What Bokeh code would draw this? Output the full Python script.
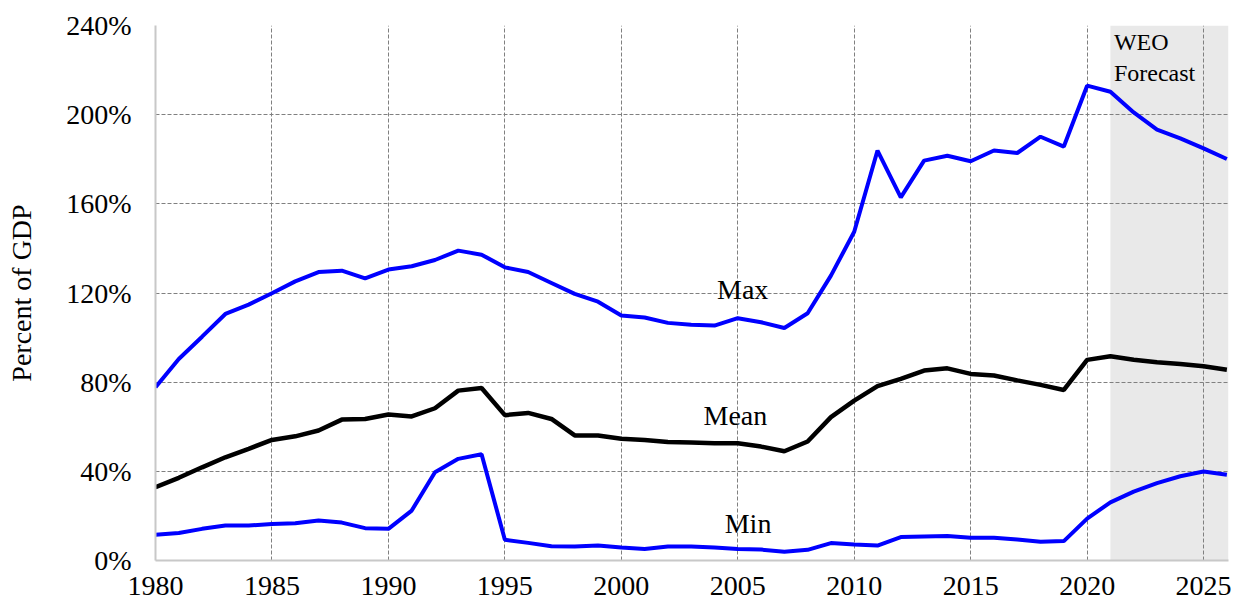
from bokeh.plotting import figure
from bokeh.models import BoxAnnotation, FixedTicker, PrintfTickFormatter, Range1d, Label
from bokeh.embed import file_html
from bokeh.resources import INLINE

years = list(range(1980, 2027))

max_vals = [77.7, 90.4, 100.4, 110.6, 114.8, 119.9, 125.2, 129.4, 130.0, 126.6,
            130.5, 132.0, 134.8, 139.0, 137.2, 131.5, 129.4, 124.5, 119.6, 116.1,
            109.9, 109.0, 106.6, 105.8, 105.4, 108.7, 106.9, 104.3, 110.9, 127.8,
            147.5, 183.9, 162.9, 179.4, 181.6, 179.1, 183.9, 182.8, 190.1, 185.7,
            213.0, 210.3, 201.0, 193.3, 189.4, 184.9, 180.1]

mean_vals = [32.9, 37.1, 41.8, 46.3, 50.1, 54.1, 55.7, 58.3, 63.2, 63.5,
             65.5, 64.6, 68.3, 76.2, 77.4, 65.2, 66.2, 63.5, 56.1, 56.1,
             54.6, 54.1, 53.2, 52.9, 52.6, 52.6, 51.1, 49.0, 53.4, 64.3,
             71.7, 78.2, 81.5, 85.2, 86.2, 83.7, 83.0, 80.8, 78.8, 76.5,
             90.0, 91.6, 90.1, 88.9, 88.2, 87.1, 85.6]

min_vals = [11.5, 12.3, 14.2, 15.7, 15.7, 16.4, 16.7, 17.9, 17.0, 14.5,
            14.2, 22.4, 39.6, 45.6, 47.7, 9.3, 7.9, 6.4, 6.3, 6.7,
            5.8, 5.2, 6.3, 6.3, 5.8, 5.2, 4.9, 3.9, 4.8, 7.8,
            7.2, 6.7, 10.5, 10.8, 11.0, 10.2, 10.2, 9.4, 8.4, 8.7,
            18.8, 26.1, 30.9, 34.7, 37.8, 39.9, 38.5]

x_ticks = [1980, 1985, 1990, 1995, 2000, 2005, 2010, 2015, 2020, 2025]
y_ticks = [0, 40, 80, 120, 160, 200, 240]
forecast_start = 2021

FONT = "Liberation Serif"

p = figure(width=1236, height=602, output_backend="svg", toolbar_location=None,
           x_range=Range1d(1980, 2026.07), y_range=Range1d(0, 240),
           min_border_left=155, min_border_right=8, min_border_top=25, min_border_bottom=42)
p.outline_line_color = None
p.background_fill_color = "white"

shade = BoxAnnotation(left=forecast_start, fill_color="#e9e9e9", fill_alpha=1.0,
                      line_color=None, level="image")
p.add_layout(shade)

p.line(years, max_vals, line_color="#0000ff", line_width=4)
p.line(years, mean_vals, line_color="black", line_width=4.5)
p.line(years, min_vals, line_color="#0000ff", line_width=4)

# axes
p.xaxis.ticker = FixedTicker(ticks=x_ticks)
p.yaxis.ticker = FixedTicker(ticks=y_ticks)
p.yaxis.formatter = PrintfTickFormatter(format="%d%%")
for ax in (p.xaxis[0], p.yaxis[0]):
    ax.axis_line_color = "#c8c8c8"
    ax.axis_line_width = 2
    ax.major_tick_line_color = None
    ax.minor_tick_line_color = None
    ax.major_label_text_font = FONT
    ax.major_label_text_font_size = "28px"
    ax.major_label_text_color = "black"
p.xaxis.major_label_standoff = 10
p.yaxis.major_label_standoff = 18
p.yaxis.axis_label = "Percent of GDP"
p.yaxis.axis_label_text_font = FONT
p.yaxis.axis_label_text_font_size = "28px"
p.yaxis.axis_label_text_font_style = "normal"
p.yaxis.axis_label_text_color = "black"
p.yaxis.axis_label_standoff = 26

# grids
p.xgrid.ticker = FixedTicker(ticks=x_ticks[1:])
p.ygrid.ticker = FixedTicker(ticks=y_ticks[1:-1])
for g in (p.xgrid[0], p.ygrid[0]):
    g.grid_line_color = "#808080"
    g.grid_line_width = 1
    g.grid_line_dash = "4 2"

labels = [("Max", 2004.11, 121.5, "28px"),
          ("Mean", 2003.53, 65.0, "28px"),
          ("Min", 2004.44, 16.7, "28px"),
          ("WEO", 2021.15, 232.4, "24px"),
          ("Forecast", 2021.15, 218.8, "24px")]
for txt, lx, ly, fs in labels:
    p.add_layout(Label(x=lx, y=ly, text=txt, text_font=FONT, text_font_size=fs,
                       text_color="black", text_baseline="alphabetic", text_align="left"))

open("out.html", "w").write(file_html(p, INLINE))
